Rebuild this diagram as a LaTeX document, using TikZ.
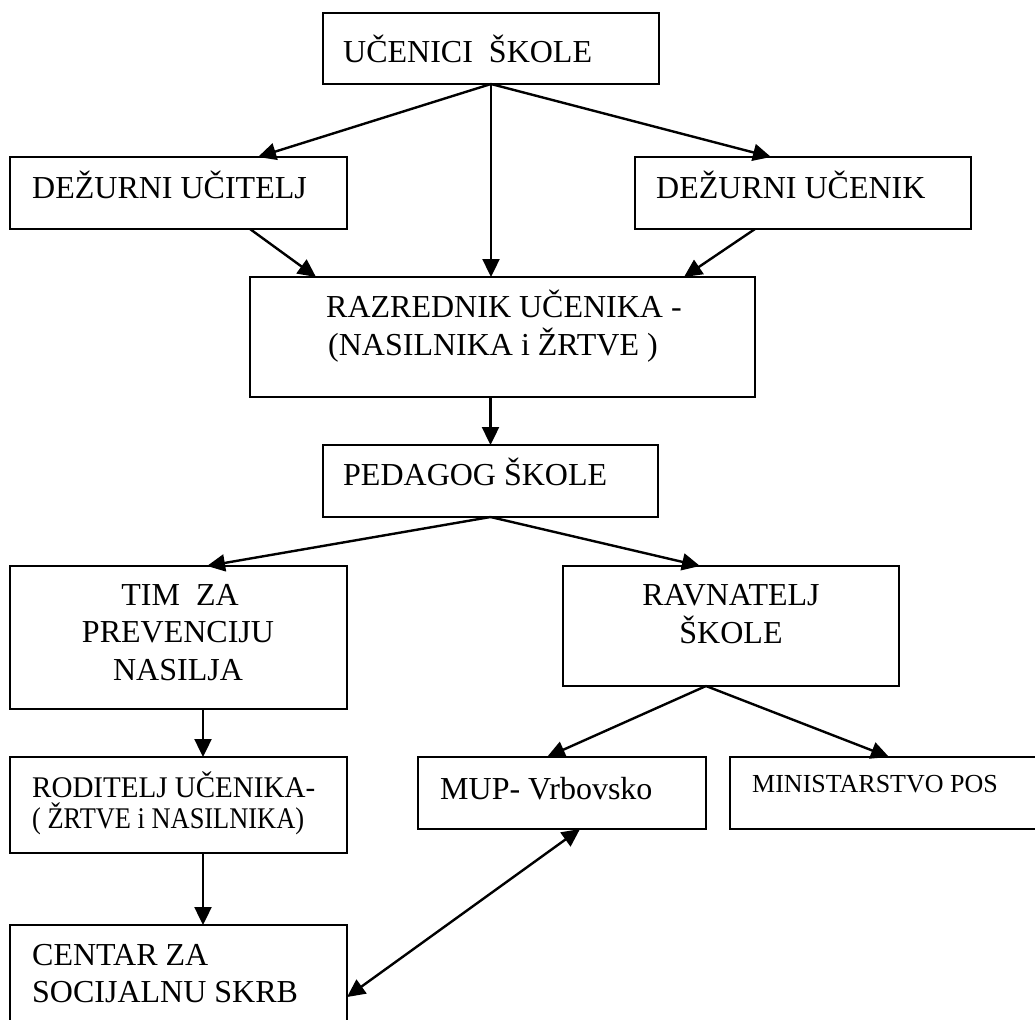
\documentclass[tikz,border=0pt]{standalone}
\usepackage{fontspec}
\setmainfont{Liberation Serif}
\usetikzlibrary{arrows.meta,calc}
\begin{document}
\begin{tikzpicture}[x=1pt,y=-1pt,
  box/.style={draw, line width=1.5pt, anchor=north west, inner sep=0pt, outer sep=0pt},
  lbl/.style={inner sep=0pt, font=\fontsize{32}{38}\selectfont},
  lblsmall/.style={inner sep=0pt, font=\fontsize{26}{30}\selectfont},
  lblmid/.style={inner sep=0pt, font=\fontsize{30}{34}\selectfont},
  conn/.style={line width=2.4pt, -{Triangle[length=18pt,width=17pt]}},
  dconn/.style={line width=2.4pt, {Triangle[length=18pt,width=17pt]}-{Triangle[length=18pt,width=17pt]}}]
\path[use as bounding box, fill=white] (0,0) rectangle (1035,1019);
\clip (0,0) rectangle (1035,1019);
% boxes
\node[box, minimum width=336pt, minimum height=71pt]  (uc)  at (323,13)  {};
\node[box, minimum width=337pt, minimum height=72pt]  (du)  at (10,157)  {};
\node[box, minimum width=336pt, minimum height=72pt]  (dn)  at (635,157) {};
\node[box, minimum width=505pt, minimum height=120pt] (raz) at (250,277) {};
\node[box, minimum width=335pt, minimum height=72pt]  (ped) at (323,445) {};
\node[box, minimum width=337pt, minimum height=143pt] (tim) at (10,566)  {};
\node[box, minimum width=336pt, minimum height=120pt] (rav) at (563,566) {};
\node[box, minimum width=337pt, minimum height=96pt]  (rod) at (10,757)  {};
\node[box, minimum width=288pt, minimum height=72pt]  (mup) at (418,757) {};
\node[box, minimum width=310pt, minimum height=72pt]  (min) at (730,757) {};
\node[box, minimum width=337pt, minimum height=130pt] (cen) at (10,925)  {};
% texts
\node[lbl, anchor=base west] (tuc) at (343,63) {UČENICI\ \ ŠKOLE};
\node[lbl, anchor=base west] (tdu) at (32,198) {DEŽURNI UČITELJ};
\node[lbl, anchor=base west] (tdn) at (656,198) {DEŽURNI UČENIK};
\node[lbl, anchor=base] (traza) at (504,317) {RAZREDNIK UČENIKA -};
\node[lbl, anchor=base] (trazb) at (493,355) {(NASILNIKA i ŽRTVE )};
\node[lbl, anchor=base west] (tped) at (343,485) {PEDAGOG ŠKOLE};
\node[lbl, anchor=base] (ttima) at (180,605) {TIM\ \ ZA};
\node[lbl, anchor=base] (ttimb) at (178,642) {PREVENCIJU};
\node[lbl, anchor=base] (ttimc) at (178,680) {NASILJA};
\node[lbl, anchor=base] (trava) at (731,605) {RAVNATELJ};
\node[lbl, anchor=base] (travb) at (731,643) {ŠKOLE};
\node[lblmid, anchor=base west] (troda) at (32,797) {\resizebox{283pt}{\height}{RODITELJ UČENIKA-}};
\node[lblmid, anchor=base west] (trodb) at (32,828) {\resizebox{272pt}{\height}{( ŽRTVE i NASILNIKA)}};
\node[lbl, anchor=base west] (tmup) at (440,799) {MUP- Vrbovsko};
\node[lblsmall, anchor=base west] (tmin) at (752,792) {MINISTARSTVO POS};
\node[lbl, anchor=base west] (tcena) at (32,965) {CENTAR ZA};
\node[lbl, anchor=base west] (tcenb) at (32,1002) {SOCIJALNU SKRB};
% connectors
\draw[conn] (uc.south) -- ($(du.north west)+(248,0)$);
\draw[conn] (uc.south) -- (uc.south |- raz.north);
\draw[conn] (uc.south) -- ($(dn.north west)+(136,0)$);
\draw[conn] ($(du.south west)+(240,0)$) -- ($(raz.north west)+(66,0)$);
\draw[conn] ($(dn.south west)+(120,0)$) -- ($(raz.north west)+(434,0)$);
\draw[conn] (ped.north |- raz.south) -- (ped.north);
\draw[conn] (ped.south) -- ($(tim.north west)+(197,0)$);
\draw[conn] (ped.south) -- ($(rav.north west)+(137,0)$);
\draw[conn] ($(tim.south west)+(193,0)$) -- ($(rod.north west)+(193,0)$);
\draw[conn] ($(rav.south west)+(143,0)$) -- ($(mup.north west)+(129,0)$);
\draw[conn] ($(rav.south west)+(143,0)$) -- ($(min.north west)+(159,0)$);
\draw[conn] ($(rod.south west)+(193,0)$) -- ($(cen.north west)+(193,0)$);
\draw[dconn] ($(mup.south west)+(162,0)$) -- ($(cen.north east)+(0,72)$);
\end{tikzpicture}
\end{document}
